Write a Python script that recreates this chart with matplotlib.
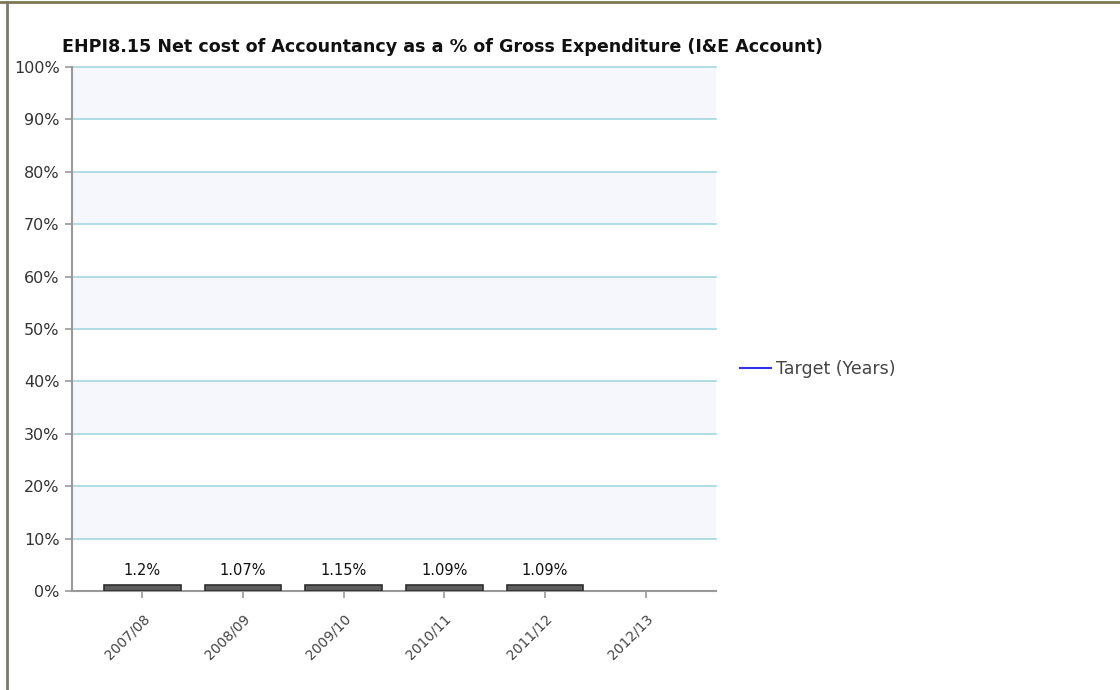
import matplotlib
matplotlib.use("Agg")
import matplotlib.pyplot as plt
from matplotlib.lines import Line2D

categories = ["2007/08", "2008/09", "2009/10", "2010/11", "2011/12", "2012/13"]
values = [1.2, 1.07, 1.15, 1.09, 1.09, None]
labels = ["1.2%", "1.07%", "1.15%", "1.09%", "1.09%", ""]
yticks = list(range(0, 101, 10))
ytick_labels = [f"{t}%" for t in yticks]
title = "EHPI8.15 Net cost of Accountancy as a % of Gross Expenditure (I&E Account)"
legend_label = "Target (Years)"

plt.rcParams['font.family'] = ['DejaVu Sans']

fig = plt.figure(figsize=(11.2, 6.9), dpi=100)
fig.patch.set_facecolor("white")
ax = fig.add_axes([72/1120, 99/690, 644/1120, 524/690])

ax.set_xlim(-0.7, 5.7)
ax.set_ylim(0, 100)

# alternating bands
for i in range(10):
    if i % 2 == 1:
        ax.axhspan(i*10, (i+1)*10, color="#f5f7fd", zorder=0, lw=0)
for t in yticks[1:]:
    ax.axhline(t, color="#a9dbe3", lw=1.3, zorder=1, clip_on=False)

xs = [i for i, v in enumerate(values) if v is not None]
vs = [v for v in values if v is not None]
ax.bar(xs, vs, width=0.76, color="#5e5e5e", edgecolor="#2e2e2e", lw=1.2, zorder=3)
for x, v, lab in zip(xs, vs, labels):
    ax.annotate(lab, (x, v), xytext=(0, 5), textcoords="offset points",
                ha="center", va="bottom", fontsize=10.5, color="#111111")

ax.set_xticks(range(len(categories)))
ax.set_xticklabels(categories, rotation=45, ha="right", rotation_mode="anchor",
                   fontsize=10, color="#444444")
ax.set_yticks(yticks)
ax.set_yticklabels(ytick_labels, fontsize=11.5, color="#333333")
ax.tick_params(axis="both", length=5, color="#999999", width=1.2)
ax.tick_params(axis="x", pad=10)
ax.tick_params(axis="y", pad=4)
for s in ["top", "right"]:
    ax.spines[s].set_visible(False)
for s in ["left", "bottom"]:
    ax.spines[s].set_color("#999999")
    ax.spines[s].set_linewidth(1.5)
ax.set_facecolor("white")

fig.text(62/1120, 1 - 47/690, title, fontsize=12.6, fontweight="bold",
         ha="left", va="center", color="#111111")

handle = Line2D([], [], color="#3333ee", lw=1.5)
fig.legend([handle], [legend_label], loc="center left",
           bbox_to_anchor=(724/1120, 1 - 369/690), frameon=False,
           fontsize=12.5, handlelength=1.8, handletextpad=0.3,
           labelcolor="#444444")

# outer frame lines
fig.add_artist(Line2D([0, 1], [1 - 1.5/690, 1 - 1.5/690], transform=fig.transFigure,
                      color="#7b7850", lw=2))
fig.add_artist(Line2D([6.5/1120, 6.5/1120], [0, 1 - 1.5/690], transform=fig.transFigure,
                      color="#7a7a6a", lw=2))

fig.savefig("out.png", dpi=100, facecolor="white")
